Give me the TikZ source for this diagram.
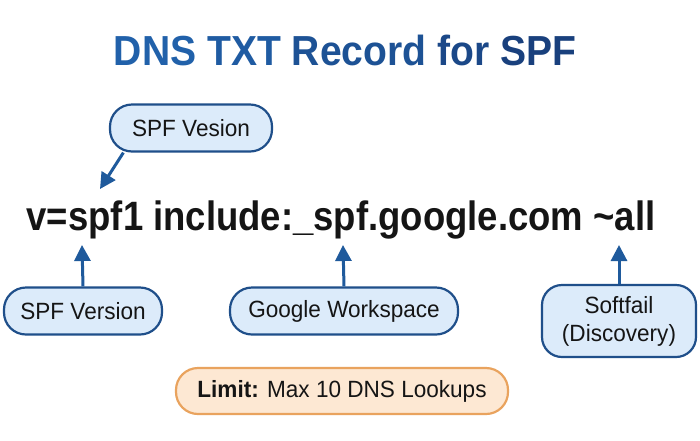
\documentclass[tikz,border=0pt]{standalone}
\usepackage{fontspec}
\setmainfont{Liberation Sans}
\newfontfamily\titlef[FakeStretch=0.93]{Liberation Sans}
\newfontfamily\recf[FakeStretch=0.89]{Liberation Sans}
\newfontfamily\bubf[FakeStretch=0.96]{Liberation Sans}
\usetikzlibrary{arrows.meta}
\definecolor{tA}{HTML}{2161AA}
\definecolor{tB}{HTML}{1F5BA2}
\definecolor{tC}{HTML}{1D5295}
\definecolor{tD}{HTML}{1B4888}
\definecolor{tE}{HTML}{19407D}
\definecolor{bubfill}{HTML}{DCEBFA}
\definecolor{bubdraw}{HTML}{1F4F8A}
\definecolor{arrowblue}{HTML}{1F5A9C}
\definecolor{limfill}{HTML}{FDE8D3}
\definecolor{limdraw}{HTML}{E9A35E}
\definecolor{txt}{HTML}{151515}
\begin{document}
\begin{tikzpicture}[x=1pt,y=-1pt,
 bubble/.style={draw=bubdraw, fill=bubfill, line width=2.2pt, rounded corners=22pt,
   minimum height=47pt, font=\bubf\fontsize{23.5}{28}\selectfont, text=txt, inner xsep=10pt, align=center},
 arr/.style={draw=arrowblue, line width=3pt, -{Triangle[length=16pt,width=16pt]}}]
\useasboundingbox[fill=white] (0,0) rectangle (700,440);
\node[font=\titlef\bfseries\fontsize{42}{46}\selectfont, anchor=base, inner sep=0pt] (title) at (345,65)
  {\textcolor{tA}{DNS} \textcolor{tB}{TXT} \textcolor{tC}{Record} \textcolor{tD}{for} \textcolor{tE}{SPF}};
\node[font=\recf\bfseries\fontsize{41}{46}\selectfont, text=txt, anchor=base, inner sep=0pt] (rec) at (341,230) {v=spf1 include:\_spf.google.com \textasciitilde all};
\node[bubble, minimum width=162pt] (top) at (191,128) {SPF Vesion};
\node[bubble, minimum width=158pt] (ver) at (83,311) {SPF Version};
\node[bubble, minimum width=228pt] (gw) at (344,311) {Google Workspace};
\node[bubble, minimum width=154pt, minimum height=72pt, rounded corners=20pt] (soft) at (619,321) {Softfail\\(Discovery)};
\node[draw=limdraw, fill=limfill, line width=2.2pt, rounded corners=22pt, minimum width=332pt, minimum height=46pt,
  font=\bubf\fontsize{23.5}{27}\selectfont, text=txt] (lim) at (342,391) {\textbf{Limit:} Max 10 DNS Lookups};
\coordinate (pA) at (100,189);
\coordinate (pB) at (82,245);
\coordinate (pC) at (343,245);
\coordinate (pD) at (619,245);
\draw[arr] (top.200) -- (pA);
\draw[arr] (ver.north) -- (pB);
\draw[arr] (gw.north) -- (pC);
\draw[arr] (soft.north) -- (pD);
\end{tikzpicture}
\end{document}
